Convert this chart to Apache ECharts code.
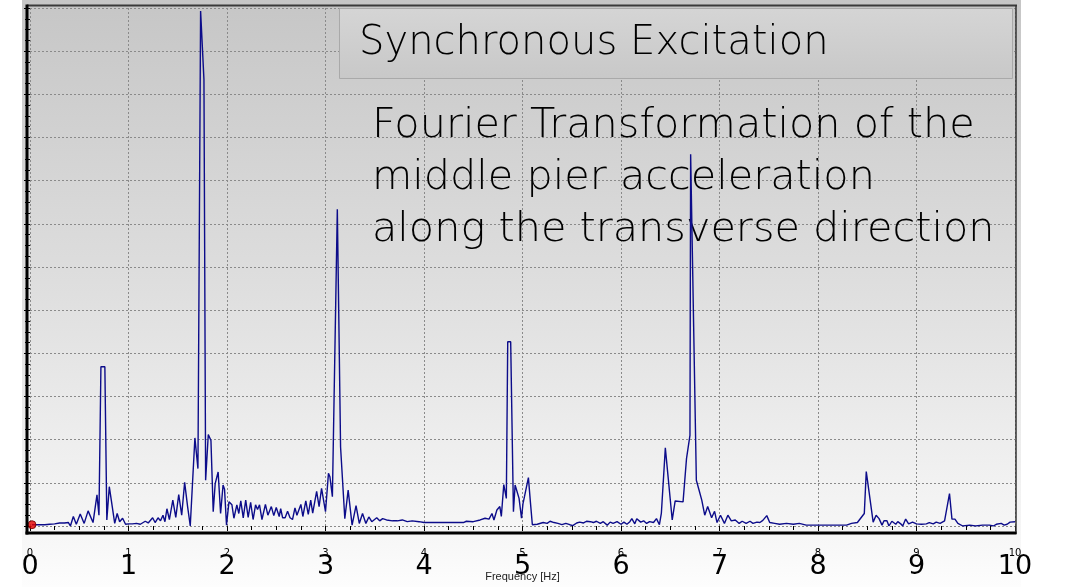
<!DOCTYPE html>
<html>
<head>
<meta charset="utf-8">
<script src="https://cdn.jsdelivr.net/npm/echarts@6/dist/echarts.min.js"></script>
<style>
  html, body { margin: 0; padding: 0; background: #ffffff; }
  #chart { width: 1066px; height: 587px; }
</style>
</head>
<body>
<div id="chart"></div>
<script>
// Spectrum of the middle pier acceleration (transverse), frequency in Hz
const freqHz = [
  0.02, 0.05, 0.10, 0.15, 0.20, 0.22, 0.25, 0.30, 0.35, 0.39, 0.41, 0.44, 0.47, 0.51, 0.55, 0.59, 0.64, 0.68, 0.70, 0.72,
  0.76, 0.78, 0.805, 0.835, 0.86, 0.885, 0.91, 0.94, 0.97, 1.00, 1.04, 1.08, 1.12, 1.17, 1.20, 1.245, 1.27, 1.30, 1.325, 1.35,
  1.37, 1.39, 1.415, 1.45, 1.48, 1.51, 1.54, 1.57, 1.60, 1.627, 1.674, 1.705, 1.732, 1.766, 1.783, 1.81, 1.837, 1.86, 1.88, 1.91,
  1.935, 1.96, 1.975, 1.995, 2.02, 2.05, 2.07, 2.10, 2.12, 2.14, 2.165, 2.19, 2.215, 2.24, 2.265, 2.29, 2.31, 2.33, 2.355, 2.39,
  2.415, 2.45, 2.475, 2.50, 2.53, 2.545, 2.565, 2.59, 2.615, 2.64, 2.665, 2.69, 2.71, 2.75, 2.77, 2.80, 2.825, 2.85, 2.87, 2.91,
  2.935, 2.96, 2.98, 3.00, 3.03, 3.045, 3.07, 3.12, 3.153, 3.165, 3.196, 3.23, 3.27, 3.31, 3.343, 3.376, 3.41, 3.44, 3.47, 3.52,
  3.55, 3.58, 3.62, 3.68, 3.73, 3.78, 3.83, 3.88, 3.95, 4.00, 4.10, 4.20, 4.30, 4.40, 4.43, 4.50, 4.57, 4.62, 4.66, 4.69,
  4.71, 4.74, 4.77, 4.785, 4.81, 4.836, 4.85, 4.88, 4.908, 4.925, 4.965, 4.99, 5.005, 5.02, 5.06, 5.08, 5.10, 5.15, 5.21, 5.25,
  5.28, 5.32, 5.36, 5.40, 5.44, 5.48, 5.51, 5.55, 5.58, 5.62, 5.65, 5.69, 5.72, 5.75, 5.79, 5.82, 5.86, 5.89, 5.92, 5.96,
  6.00, 6.03, 6.06, 6.09, 6.11, 6.14, 6.16, 6.20, 6.23, 6.26, 6.29, 6.33, 6.36, 6.39, 6.41, 6.45, 6.52, 6.55, 6.63, 6.665,
  6.70, 6.707, 6.765, 6.79, 6.81, 6.82, 6.85, 6.88, 6.92, 6.95, 6.975, 7.01, 7.05, 7.085, 7.12, 7.16, 7.20, 7.23, 7.27, 7.31,
  7.34, 7.38, 7.41, 7.44, 7.48, 7.51, 7.56, 7.61, 7.68, 7.75, 7.81, 7.88, 8.00, 8.10, 8.20, 8.29, 8.34, 8.40, 8.47, 8.49,
  8.56, 8.59, 8.62, 8.65, 8.67, 8.70, 8.72, 8.75, 8.79, 8.81, 8.84, 8.86, 8.89, 8.92, 8.96, 9.00, 9.05, 9.10, 9.13, 9.17,
  9.20, 9.24, 9.285, 9.335, 9.36, 9.39, 9.42, 9.47, 9.54, 9.60, 9.67, 9.74, 9.78, 9.81, 9.86, 9.89, 9.92, 9.95, 10.00
];

const amplitude = [
  0.03, 0.03, 0.03, 0.03, 0.04, 0.06, 0.05, 0.07, 0.07, 0.08, 0.00, 0.22, 0.04, 0.28, 0.06, 0.35, 0.08, 0.72, 0.25, 3.69,
  3.69, 0.14, 0.91, 0.45, 0.06, 0.29, 0.10, 0.18, 0.04, 0.05, 0.05, 0.06, 0.04, 0.11, 0.07, 0.19, 0.08, 0.19, 0.12, 0.25,
  0.10, 0.40, 0.15, 0.60, 0.20, 0.73, 0.25, 1.01, 0.45, 0.00, 2.04, 1.33, 11.93, 10.34, 1.06, 2.12, 1.98, 0.33, 0.98, 1.25,
  0.29, 0.95, 0.85, 0.02, 0.56, 0.49, 0.18, 0.49, 0.29, 0.58, 0.19, 0.60, 0.20, 0.55, 0.15, 0.49, 0.38, 0.49, 0.15, 0.50,
  0.25, 0.45, 0.24, 0.43, 0.22, 0.40, 0.19, 0.19, 0.34, 0.19, 0.15, 0.42, 0.25, 0.50, 0.22, 0.58, 0.27, 0.60, 0.30, 0.80,
  0.45, 0.87, 0.88, 0.33, 1.22, 1.14, 0.68, 7.34, 1.83, 1.80, 0.17, 0.83, 0.02, 0.47, 0.06, 0.29, 0.06, 0.21, 0.10, 0.19,
  0.12, 0.17, 0.14, 0.12, 0.12, 0.14, 0.10, 0.12, 0.10, 0.08, 0.08, 0.08, 0.08, 0.08, 0.11, 0.10, 0.14, 0.18, 0.16, 0.29,
  0.14, 0.37, 0.45, 0.22, 0.96, 0.64, 4.27, 4.27, 0.33, 0.95, 0.64, 0.18, 0.52, 0.68, 1.12, 0.56, 0.03, 0.04, 0.08, 0.06,
  0.11, 0.08, 0.06, 0.03, 0.06, 0.03, 0.01, 0.07, 0.09, 0.07, 0.11, 0.10, 0.08, 0.11, 0.06, 0.10, 0.02, 0.09, 0.06, 0.10,
  0.04, 0.09, 0.04, 0.10, 0.17, 0.05, 0.17, 0.09, 0.12, 0.06, 0.10, 0.08, 0.17, 0.03, 0.30, 1.81, 0.14, 0.58, 0.56, 1.56,
  2.10, 8.61, 1.06, 0.85, 0.85, 0.60, 0.25, 0.45, 0.19, 0.34, 0.08, 0.25, 0.06, 0.25, 0.12, 0.14, 0.06, 0.11, 0.06, 0.11,
  0.06, 0.09, 0.08, 0.13, 0.24, 0.08, 0.06, 0.04, 0.06, 0.04, 0.06, 0.02, 0.02, 0.02, 0.02, 0.02, 0.06, 0.08, 0.29, 1.26,
  0.09, 0.25, 0.17, 0.02, 0.12, 0.12, 0.00, 0.11, 0.04, 0.10, 0.05, 0.00, 0.16, 0.05, 0.09, 0.05, 0.04, 0.05, 0.08, 0.05,
  0.09, 0.06, 0.12, 0.75, 0.16, 0.16, 0.06, 0.00, 0.02, 0.00, 0.02, 0.02, 0.00, 0.04, 0.06, 0.02, 0.04, 0.09, 0.10
];

// Tick labels along the frequency axis (small axis labels and large slide labels)
const xTickLabels = ['0', '1', '2', '3', '4', '5', '6', '7', '8', '9', '10'];
const xAxisName = 'Frequency [Hz]';

const titleText = 'Synchronous Excitation';
const noteLines = [
  'Fourier Transformation of the',
  'middle pier acceleration',
  'along the transverse direction'
];

const slideFont = '"DejaVu Sans", sans-serif';
const slideWeight = 300;

// scale a font so that a line reaches a given width
function fitFontSize(text, family, weight, width) {
  const ctx = document.createElement('canvas').getContext('2d');
  ctx.font = weight + ' 100px ' + family;
  return 100 * width / ctx.measureText(text).width;
}
const noteSize = fitFontSize(noteLines[2], slideFont, slideWeight, 623);
const titleSize = fitFontSize(titleText, slideFont, slideWeight, 470);

const points = freqHz.map((f, i) => [f, amplitude[i]]);

const dashedGrid = { show: true, lineStyle: { color: '#8a8a8a', width: 1, type: [2, 2] } };

const chart = echarts.init(document.getElementById('chart'), null, { renderer: 'canvas' });

chart.setOption({
  backgroundColor: '#ffffff',
  animation: false,
  grid: { left: 30, right: 51, top: 8, bottom: 59.3, containLabel: false },
  xAxis: [
    {
      type: 'value', min: 0, max: 10, interval: 1, offset: 5,
      axisLine: { show: false },
      axisTick: { show: true, length: 5, lineStyle: { color: '#000', width: 1 } },
      minorTick: { show: true, splitNumber: 4, length: 4, lineStyle: { color: '#000', width: 1 } },
      axisLabel: {
        margin: 17, fontSize: 10, color: '#000', fontFamily: '"DejaVu Sans", sans-serif',
        formatter: v => xTickLabels[Math.round(v)]
      },
      splitLine: dashedGrid,
      name: xAxisName, nameLocation: 'middle', nameGap: 40,
      nameTextStyle: { fontSize: 11, color: '#222', fontFamily: '"Liberation Sans", sans-serif' }
    },
    {
      type: 'value', min: 0, max: 10, interval: 1, offset: 5, position: 'bottom',
      axisLine: { show: false }, axisTick: { show: false }, splitLine: { show: false },
      axisLabel: {
        margin: 22, fontSize: 27, color: '#000', fontFamily: slideFont,
        formatter: v => xTickLabels[Math.round(v)]
      }
    }
  ],
  yAxis: {
    type: 'value', min: 0, max: 12, interval: 1, offset: 3,
    axisLine: { show: false },
    axisTick: { show: true, length: 6, lineStyle: { color: '#000', width: 1 } },
    minorTick: { show: true, splitNumber: 4, length: 5, lineStyle: { color: '#000', width: 1 } },
    axisLabel: { show: false },
    splitLine: dashedGrid
  },
  series: [
    {
      type: 'line', data: points, xAxisIndex: 0, yAxisIndex: 0,
      symbol: 'none', z: 3,
      lineStyle: { color: '#0c0c8a', width: 1.4 }
    },
    {
      type: 'scatter', data: [points[0]], xAxisIndex: 0, yAxisIndex: 0,
      symbolSize: 8, z: 4,
      itemStyle: { color: '#e60000', borderColor: '#700000', borderWidth: 1 }
    }
  ],
  graphic: [
    // panel background
    {
      type: 'rect', z: -10, silent: true,
      shape: { x: 22, y: 0, width: 999, height: 587 },
      style: {
        fill: new echarts.graphic.LinearGradient(0, 0, 0, 1, [
          { offset: 0, color: '#c6c6c6' },
          { offset: 0.5, color: '#dfdfdf' },
          { offset: 0.9, color: '#f6f6f6' },
          { offset: 1, color: '#fdfdfd' }
        ])
      }
    },
    // plot frame
    { type: 'line', z: 10, silent: true, shape: { x1: 27, y1: 5.5, x2: 1017, y2: 5.5 }, style: { stroke: '#3a3a3a', lineWidth: 2 } },
    { type: 'line', z: 10, silent: true, shape: { x1: 1016, y1: 5, x2: 1016, y2: 534 }, style: { stroke: '#333', lineWidth: 1.5 } },
    { type: 'line', z: 10, silent: true, shape: { x1: 27, y1: 4.5, x2: 27, y2: 534.5 }, style: { stroke: '#000', lineWidth: 3 } },
    { type: 'line', z: 10, silent: true, shape: { x1: 25.5, y1: 533, x2: 1016.5, y2: 533 }, style: { stroke: '#000', lineWidth: 3 } },
    // title box
    {
      type: 'rect', z: 20, silent: true,
      shape: { x: 339.5, y: 8.5, width: 673, height: 70 },
      style: {
        fill: new echarts.graphic.LinearGradient(0, 0, 0, 1, [
          { offset: 0, color: '#d5d5d5' },
          { offset: 1, color: '#c8c8c8' }
        ]),
        stroke: '#a9a9a9', lineWidth: 1
      }
    },
    {
      type: 'text', z: 21, silent: true, x: 359, y: 44,
      style: { text: titleText, font: `${slideWeight} ${titleSize.toFixed(1)}px ${slideFont}`, fill: '#000', verticalAlign: 'middle' }
    },
    ...noteLines.map((line, i) => ({
      type: 'text', z: 1, silent: true, x: 372, y: 126 + i * 52,
      style: { text: line, font: `${slideWeight} ${noteSize.toFixed(1)}px ${slideFont}`, fill: '#000', verticalAlign: 'middle' }
    }))
  ]
});
</script>
</body>
</html>
